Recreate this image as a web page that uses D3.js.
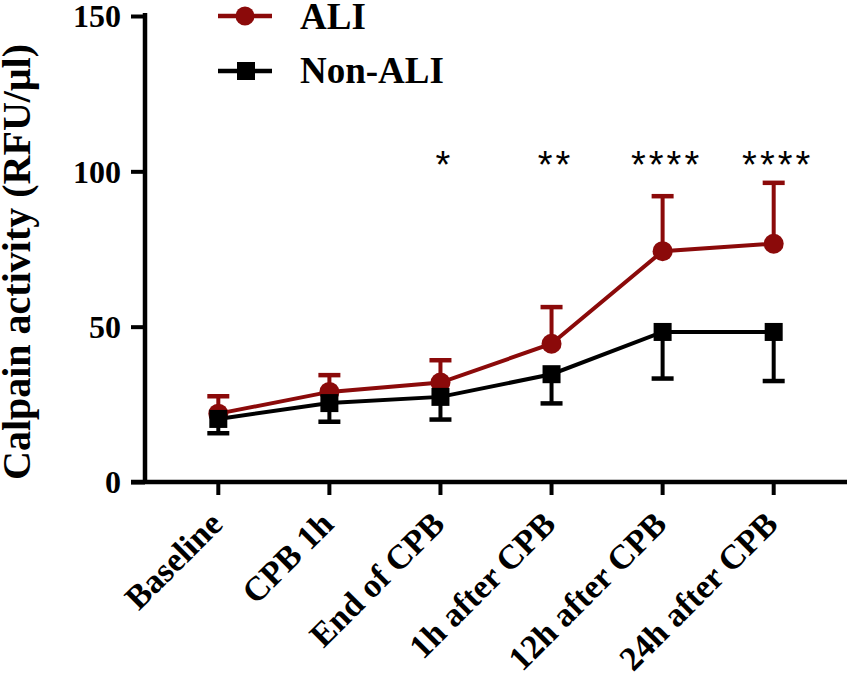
<!DOCTYPE html>
<html>
<head>
<meta charset="utf-8">
<script src="https://cdn.jsdelivr.net/npm/d3@7"></script>
<style>
  body { margin: 0; background: #fff; }
  text { font-family: "Liberation Serif", "Times New Roman", serif; font-weight: bold; fill: #000; }
</style>
</head>
<body>
<svg id="chart" width="850" height="681"></svg>
<script>
// categories along the x axis
var timePoints = ["Baseline", "CPB 1h", "End of CPB", "1h after CPB", "12h after CPB", "24h after CPB"];

// ALI group: mean and SD (only upper bar shown)
var aliMean = [22.0, 29.0, 32.0, 44.5, 74.3, 76.7];
var aliSD   = [5.6, 5.4, 7.2, 11.8, 17.7, 19.6];

// Non-ALI group: mean and SD (only lower bar shown)
var nonAliMean = [20.3, 25.4, 27.4, 34.7, 48.3, 48.3];
var nonAliSD   = [4.6, 6.0, 7.3, 9.4, 15.0, 15.8];

// significance marks above each time point
var sigMarks = ["", "", "*", "**", "****", "****"];

var yTicks = [0, 50, 100, 150];

var svg = d3.select("#chart");
var red = "#8b0a0a";

var x = d3.scalePoint()
  .domain(timePoints)
  .range([145, 847])
  .padding(0.66);

var y = d3.scaleLinear()
  .domain([0, 150])
  .range([482, 16]);

// y axis
var yAxis = svg.append("g")
  .attr("transform", "translate(145,0)")
  .call(d3.axisLeft(y).tickValues(yTicks).tickSize(14).tickPadding(10));
yAxis.select(".domain").remove();
yAxis.append("line")
  .attr("x1", 0).attr("x2", 0)
  .attr("y1", y(150) - 3).attr("y2", y(0) + 2)
  .style("stroke", "#000").style("stroke-width", 4.5);
yAxis.selectAll(".tick line").style("stroke", "#000").style("stroke-width", 4);
yAxis.selectAll(".tick text")
  .style("font-size", "32px")
  .attr("dy", "0.34em");

// x axis
var xAxis = svg.append("g")
  .attr("transform", "translate(0," + y(0) + ")");
xAxis.append("line")
  .attr("x1", 131).attr("x2", 847)
  .attr("y1", 0).attr("y2", 0)
  .style("stroke", "#000").style("stroke-width", 4.5);
xAxis.selectAll(".xtick")
  .data(timePoints)
  .enter().append("line")
  .attr("x1", function (d) { return x(d); })
  .attr("x2", function (d) { return x(d); })
  .attr("y1", 0).attr("y2", 13)
  .style("stroke", "#000").style("stroke-width", 4);
xAxis.selectAll(".xlabel")
  .data(timePoints)
  .enter().append("text")
  .attr("text-anchor", "end")
  .attr("transform", function (d) { return "translate(" + (x(d) + 6) + ",44) rotate(-45)"; })
  .style("font-size", "34px")
  .text(function (d) { return d; });

// y axis title
svg.append("text")
  .attr("transform", "translate(30,262) rotate(-90)")
  .attr("text-anchor", "middle")
  .style("font-size", "40px")
  .text("Calpain activity (RFU/\u03bcl)");

// series helper
function drawSeries(means, sds, dir, color, shape) {
  var g = svg.append("g");
  var line = d3.line()
    .x(function (d, i) { return x(timePoints[i]); })
    .y(function (d) { return y(d); });

  // error bars (one-sided)
  var bars = g.selectAll(".err")
    .data(means)
    .enter().append("g");
  bars.append("line")
    .attr("x1", function (d, i) { return x(timePoints[i]); })
    .attr("x2", function (d, i) { return x(timePoints[i]); })
    .attr("y1", function (d) { return y(d); })
    .attr("y2", function (d, i) { return y(d + dir * sds[i]); })
    .style("stroke", color).style("stroke-width", 4);
  bars.append("line")
    .attr("x1", function (d, i) { return x(timePoints[i]) - 11; })
    .attr("x2", function (d, i) { return x(timePoints[i]) + 11; })
    .attr("y1", function (d, i) { return y(d + dir * sds[i]); })
    .attr("y2", function (d, i) { return y(d + dir * sds[i]); })
    .style("stroke", color).style("stroke-width", 4.5);

  g.append("path")
    .datum(means)
    .attr("d", line)
    .style("fill", "none")
    .style("stroke", color)
    .style("stroke-width", 4);

  if (shape === "circle") {
    g.selectAll(".pt")
      .data(means)
      .enter().append("circle")
      .attr("cx", function (d, i) { return x(timePoints[i]); })
      .attr("cy", function (d) { return y(d); })
      .attr("r", 10)
      .style("fill", color);
  } else {
    g.selectAll(".pt")
      .data(means)
      .enter().append("rect")
      .attr("x", function (d, i) { return x(timePoints[i]) - 9; })
      .attr("y", function (d) { return y(d) - 9; })
      .attr("width", 18).attr("height", 18)
      .style("fill", color);
  }
}

drawSeries(aliMean, aliSD, 1, red, "circle");
drawSeries(nonAliMean, nonAliSD, -1, "#000", "square");

// significance asterisks
svg.selectAll(".sig")
  .data(sigMarks)
  .enter().append("text")
  .attr("x", function (d, i) { return x(timePoints[i]) + 4; })
  .attr("y", 178)
  .attr("text-anchor", "middle")
  .style("font-family", "'Liberation Sans', Arial, sans-serif")
  .style("font-weight", "normal")
  .style("font-size", "38px")
  .style("letter-spacing", "3px")
  .text(function (d) { return d; });

// legend
var legend = svg.append("g");
legend.append("line")
  .attr("x1", 218).attr("x2", 272).attr("y1", 16).attr("y2", 16)
  .style("stroke", red).style("stroke-width", 4.5);
legend.append("circle")
  .attr("cx", 245).attr("cy", 16).attr("r", 9.5)
  .style("fill", red);
legend.append("text")
  .attr("x", 300).attr("y", 29)
  .style("font-size", "37px")
  .text("ALI");
legend.append("line")
  .attr("x1", 218).attr("x2", 272).attr("y1", 71).attr("y2", 71)
  .style("stroke", "#000").style("stroke-width", 4.5);
legend.append("rect")
  .attr("x", 237).attr("y", 62).attr("width", 18).attr("height", 18)
  .style("fill", "#000");
legend.append("text")
  .attr("x", 300).attr("y", 83)
  .style("font-size", "37px")
  .text("Non-ALI");
</script>
</body>
</html>
